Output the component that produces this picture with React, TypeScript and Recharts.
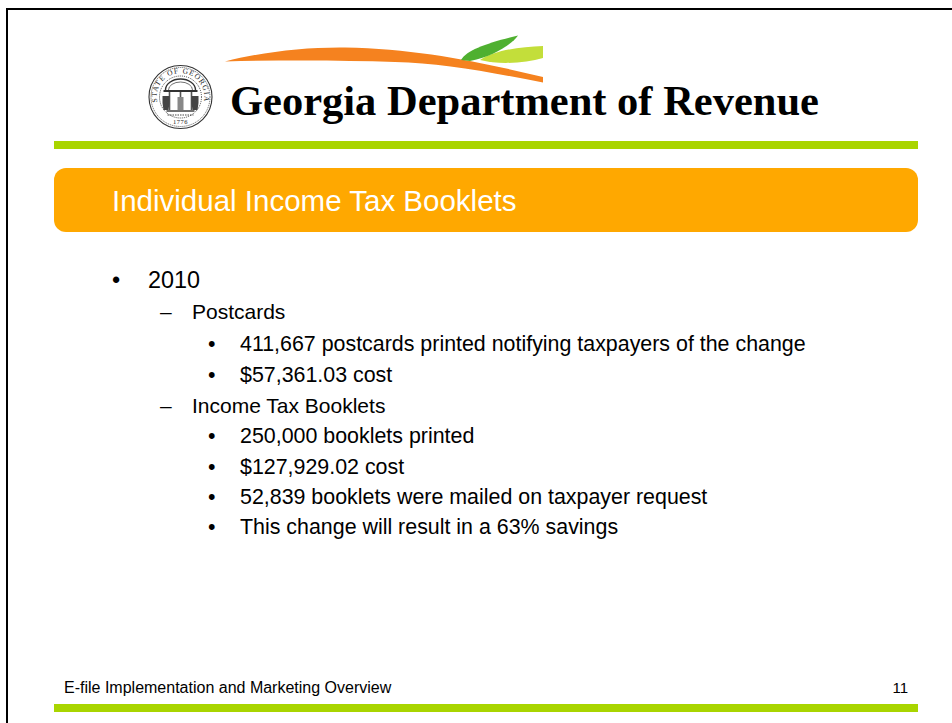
import React from 'react';
import { ComposedChart, XAxis, YAxis, ReferenceArea } from 'recharts';

const WIDTH = 952;
const HEIGHT = 723;

const heading = 'Georgia Department of Revenue';
const bannerTitle = 'Individual Income Tax Booklets';
const footerText = 'E-file Implementation and Marketing Overview';
const pageNumber = '11';
const sealTop = 'STATE OF GEORGIA';
const sealYear = '1776';

const outline = [
  '2010',
  'Postcards',
  '411,667 postcards printed notifying taxpayers of the change',
  '$57,361.03 cost',
  'Income Tax Booklets',
  '250,000 booklets printed',
  '$127,929.02 cost',
  '52,839 booklets were mailed on taxpayer request',
  'This change will result in a 63% savings',
];
const outlineLevels = [0, 1, 2, 2, 1, 2, 2, 2, 2];

// the chart needs rows so its hidden axes get scales
const axisRows = [
  { x: 0, y: 0 },
  { x: WIDTH, y: HEIGHT },
];

// layout of the outline, one entry per line / per level
const baselines = [288, 319, 351, 382, 413, 443, 474, 504, 534];
const levelStyle = [
  { mark: '•', markX: 112, textX: 148, size: 23.4 },
  { mark: '–', markX: 160, textX: 192, size: 21 },
  { mark: '•', markX: 208, textX: 240, size: 21.4 },
];

const SANS = '"Liberation Sans", Arial, sans-serif';
const SERIF = '"Liberation Serif", "Times New Roman", serif';
const GREEN = '#A9D500';
const ORANGE = '#FFA800';

function Seal() {
  return (
    <g transform="translate(180.5 97)" fill="none" stroke="#333">
      <circle r={31.5} strokeWidth={1.1} />
      <circle r={29.5} strokeWidth={0.7} strokeDasharray="1.2 0.8" />
      <circle r={21} strokeWidth={0.9} strokeDasharray="1 1" />
      <defs>
        <path id="seal-top" d="M -23 6 A 23.8 23.8 0 1 1 23 6" />
      </defs>
      <text fontFamily={SERIF} fontSize={7.5} fill="#222" stroke="none" letterSpacing={1}>
        <textPath href="#seal-top" startOffset="50%" textAnchor="middle">
          {sealTop}
        </textPath>
      </text>
      <text y={27} textAnchor="middle" fontFamily={SERIF} fontSize={6.5} fill="#222" stroke="none" letterSpacing={0.5}>
        {sealYear}
      </text>
      {/* arch and columns */}
      <path d="M -15 -7 A 15 11 0 0 1 15 -7" strokeWidth={1.4} />
      <path d="M -12 -7 A 12 8 0 0 1 12 -7" strokeWidth={0.7} />
      <path d="M -17 -6 H 17" strokeWidth={1.8} />
      <path d="M -11 -5 V 13 M 0 -5 V 13 M 11 -5 V 13" strokeWidth={1.6} stroke="#555" />
      <path d="M -14 14 H 14" strokeWidth={1.4} />
      {/* figures */}
      <path d="M -18 -1 h 7 v 7 l -1 7 h -5 l -1 -7 z M 11 -1 h 7 v 7 l -1 7 h -5 l -1 -7 z" fill="#444" stroke="none" />
      <path d="M -3 0 h 6 v 13 h -6 z" fill="#888" stroke="none" />
      <path d="M -13 18 H 13" strokeWidth={0.9} strokeDasharray="1.5 1" />
    </g>
  );
}

function Swoosh() {
  return (
    <g>
      <path d="M 225 61.5 C 262 52 305 47 345 47.5 C 420 49 480 62 543 77 L 543 82.5 C 490 72 440 63 395 62 C 340 60 280 60 225 61.5 Z" fill="#F5821F" />
      <path d="M 480 60 C 495 50 520 47 543 46 L 543 58 C 525 63 500 65 480 60 Z" fill="#C3DE3A" />
      <path d="M 461 60 C 466 50 490 42 518 35.5 C 512 44 495 56 470 61 Z" fill="#4FB030" />
    </g>
  );
}

export default function App() {
  return (
    <div style={{ position: 'absolute', left: 0, top: 0, width: WIDTH, height: HEIGHT, background: '#fff' }}>
      <ComposedChart width={WIDTH} height={HEIGHT} margin={{ top: 0, right: 0, bottom: 0, left: 0 }} data={axisRows}>
        <XAxis type="number" dataKey="x" domain={[0, WIDTH]} height={0} hide />
        <YAxis type="number" dataKey="y" domain={[0, HEIGHT]} width={0} reversed hide />

        {/* slide frame, only left and top edges are in the shot */}
        <ReferenceArea x1={6} x2={8} y1={8} y2={HEIGHT} fill="#000" fillOpacity={1} ifOverflow="visible" />
        <ReferenceArea x1={6} x2={WIDTH} y1={8} y2={10} fill="#000" fillOpacity={1} ifOverflow="visible" />

        <ReferenceArea x1={54} x2={918} y1={141} y2={149} fill={GREEN} fillOpacity={1} ifOverflow="visible" />
        <ReferenceArea
          x1={54}
          x2={918}
          y1={168}
          y2={232}
          fill={ORANGE}
          fillOpacity={1}
          radius={12}
          ifOverflow="visible"
          label={{
            value: bannerTitle,
            position: 'insideLeft',
            offset: 58,
            dy: 1,
            fill: '#fff',
            fontSize: 29.5,
            fontFamily: SANS,
          }}
        />
        <ReferenceArea x1={54} x2={918} y1={704} y2={712} fill={GREEN} fillOpacity={1} ifOverflow="visible" />

        <Swoosh />
        <Seal />

        <text x={230} y={115} fontFamily={SERIF} fontWeight="bold" fontSize={42.5} fill="#000">
          {heading}
        </text>

        {outline.map((line, i) => {
          const st = levelStyle[outlineLevels[i]];
          return (
            <g key={line} fontFamily={SANS} fontSize={st.size} fill="#000">
              <text x={st.markX} y={baselines[i]}>{st.mark}</text>
              <text x={st.textX} y={baselines[i]}>{line}</text>
            </g>
          );
        })}

        <text x={64} y={693} fontFamily={SANS} fontSize={16} fill="#000">
          {footerText}
        </text>
        <text x={908} y={693} textAnchor="end" fontFamily={SANS} fontSize={15} fill="#000">
          {pageNumber}
        </text>
      </ComposedChart>
    </div>
  );
}
